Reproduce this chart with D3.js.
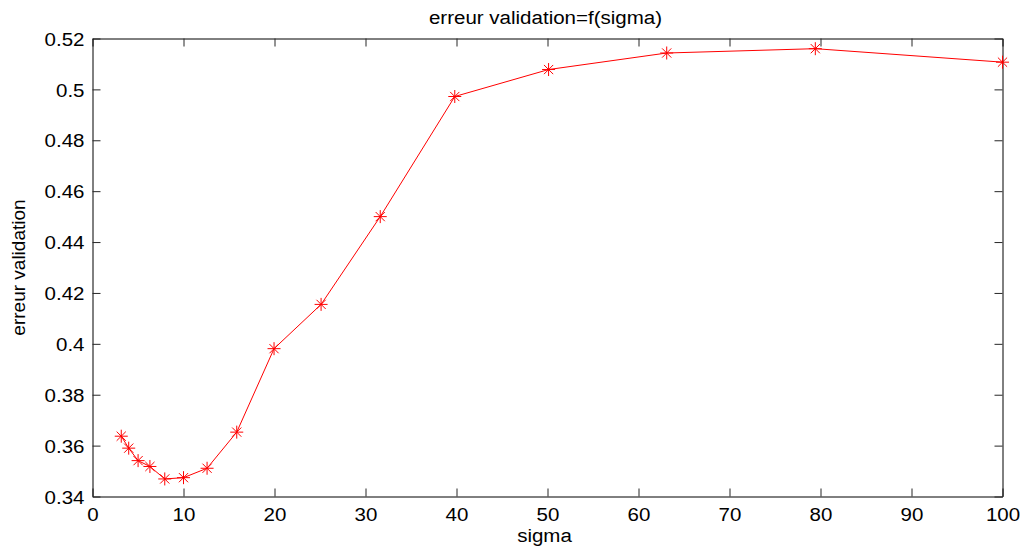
<!DOCTYPE html>
<html>
<head>
<meta charset="utf-8">
<script src="https://cdn.jsdelivr.net/npm/d3@7"></script>
<style>
  html, body { margin: 0; padding: 0; background: #fff; }
  svg { display: block; }
  text { font-family: "Liberation Sans", Arial, sans-serif; fill: #000; }
</style>
</head>
<body>
<svg id="chart" width="1024" height="551"></svg>
<script>
// ---- data ----
const sigma = [3.16, 3.98, 5.01, 6.31, 7.94, 10, 12.59, 15.85, 19.95, 25.12, 31.62, 39.81, 50.12, 63.1, 79.43, 100];
const erreurValidation = [0.3637, 0.3590, 0.3541, 0.3518, 0.3469, 0.3474, 0.3511, 0.3653, 0.3981, 0.4155, 0.4500, 0.4972, 0.5078, 0.5143, 0.5160, 0.5107];
const xTicks = [0, 10, 20, 30, 40, 50, 60, 70, 80, 90, 100];
const yTicks = [0.34, 0.36, 0.38, 0.4, 0.42, 0.44, 0.46, 0.48, 0.5, 0.52];
const titleText = "erreur validation=f(sigma)";
const xLabel = "sigma";
const yLabel = "erreur validation";

// ---- layout ----
const plotL = 92.5, plotR = 1002.5, plotT = 38.5, plotB = 496.5;
const fontSize = 19, stretch = 1.08, tickLen = 8;

const svg = d3.select("#chart");
const x = d3.scaleLinear().domain([0, 100]).range([plotL, plotR]);
const y = d3.scaleLinear().domain([0.34, 0.52]).range([plotB, plotT]);

function styleAxis(g) {
  g.attr("font-family", null).attr("font-size", null);
  g.selectAll("path.domain").attr("stroke", "#000").attr("stroke-width", 1);
  g.selectAll(".tick line").attr("stroke", "#262626").attr("stroke-width", 1);
  g.selectAll("text").attr("font-size", fontSize).attr("fill", "#000")
    .attr("font-family", "'Liberation Sans', Arial, sans-serif");
}

// bottom axis
const gb = svg.append("g").attr("transform", `translate(0,${plotB})`)
  .call(d3.axisBottom(x).tickValues(xTicks).tickFormat(d => String(d))
    .tickSizeInner(-tickLen).tickSizeOuter(0));
styleAxis(gb);
gb.selectAll(".tick text").attr("dy", null).attr("y", 0)
  .attr("transform", `translate(0,24) scale(${stretch},1)`);

// top axis
const gt = svg.append("g").attr("transform", `translate(0,${plotT})`)
  .call(d3.axisTop(x).tickValues(xTicks).tickFormat("")
    .tickSizeInner(-tickLen).tickSizeOuter(0));
styleAxis(gt);

// left axis
const gl = svg.append("g").attr("transform", `translate(${plotL},0)`)
  .call(d3.axisLeft(y).tickValues(yTicks).tickFormat(d => String(d))
    .tickSizeInner(-tickLen).tickSizeOuter(0));
styleAxis(gl);
gl.selectAll(".tick text").attr("x", 0).attr("dy", "0.35em")
  .attr("transform", `translate(-8,0) scale(${stretch},1)`);

// right axis
const gr = svg.append("g").attr("transform", `translate(${plotR},0)`)
  .call(d3.axisRight(y).tickValues(yTicks).tickFormat("")
    .tickSizeInner(-tickLen).tickSizeOuter(0));
styleAxis(gr);

// line
const line = d3.line().x((d, i) => x(sigma[i])).y(d => y(d));
svg.append("path").datum(erreurValidation)
  .attr("fill", "none").attr("stroke", "#ff0000").attr("stroke-width", 1)
  .attr("d", line);

// asterisk markers
const r = 6.5, rd = 4.6;
const star = `M${-r},0L${r},0M0,${-r}L0,${r}M${-rd},${-rd}L${rd},${rd}M${-rd},${rd}L${rd},${-rd}`;
svg.append("g").selectAll("path.marker").data(erreurValidation).join("path")
  .attr("class", "marker")
  .attr("transform", (d, i) => `translate(${x(sigma[i])},${y(d)})`)
  .attr("d", star)
  .attr("fill", "none").attr("stroke", "#ff0000").attr("stroke-width", 1);

// title
svg.append("text").attr("font-size", fontSize).attr("text-anchor", "middle")
  .attr("transform", `translate(${(plotL + plotR) / 2 - 2},24) scale(${stretch},1)`)
  .text(titleText);

// x label
svg.append("text").attr("font-size", fontSize).attr("text-anchor", "middle")
  .attr("transform", `translate(${(plotL + plotR) / 2 - 3},542) scale(${stretch},1)`)
  .text(xLabel);

// y label
svg.append("text").attr("font-size", fontSize).attr("text-anchor", "middle")
  .attr("transform", `translate(25,${(plotT + plotB) / 2}) rotate(-90)`)
  .text(yLabel);
</script>
</body>
</html>
